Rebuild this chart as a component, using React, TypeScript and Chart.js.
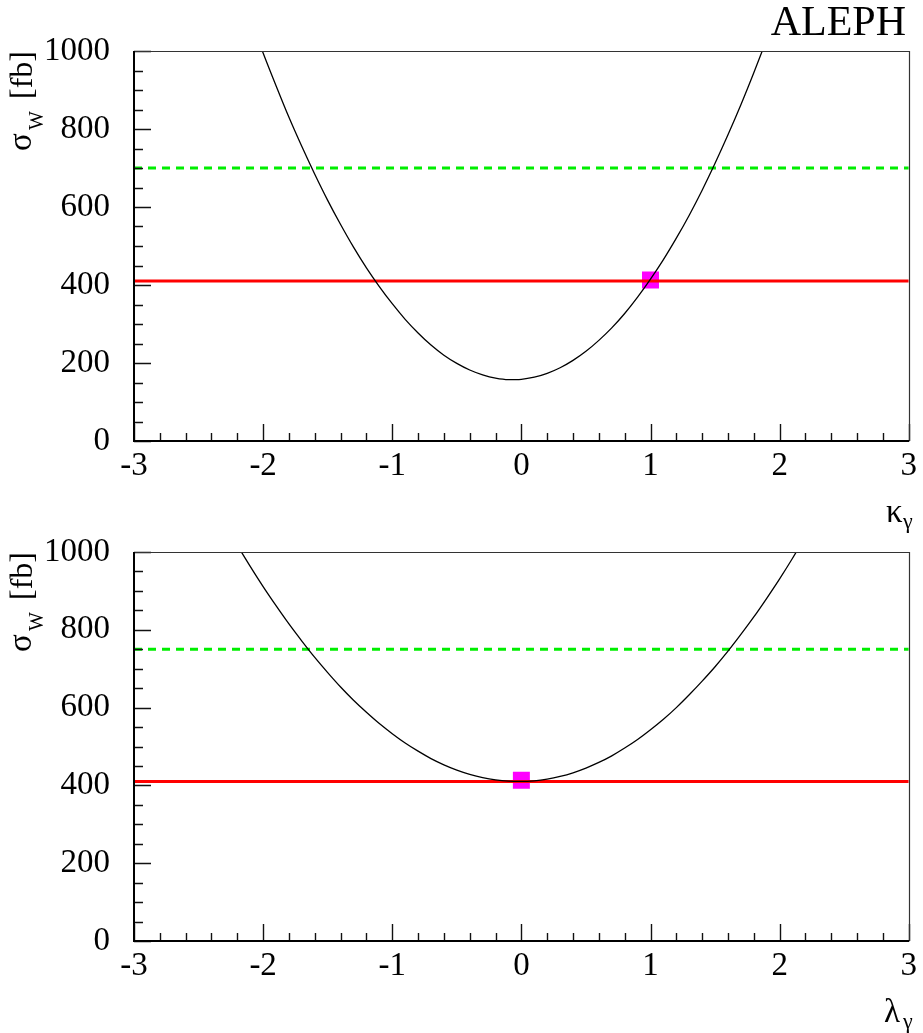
import React, { useEffect, useRef } from "react";
import { Chart, registerables } from "chart.js";

Chart.register(...registerables);

const FONT = "'Liberation Serif', 'DejaVu Serif', 'Times New Roman', serif";

// ---- Data ----
const kappaValues = [-2.1, -2.0, -1.9, -1.8, -1.7, -1.6, -1.5, -1.4, -1.3, -1.2, -1.1, -1.0, -0.9, -0.8, -0.7, -0.6, -0.5, -0.4, -0.3, -0.2, -0.1, 0, 0.1, 0.2, 0.3, 0.4, 0.5, 0.6, 0.7, 0.8, 0.9, 1.0, 1.1, 1.2, 1.3, 1.4, 1.5, 1.6, 1.7, 1.8, 1.9];
const kappaSigma = [1084, 995, 911, 830, 755, 684, 617, 555, 497, 444, 396, 352, 312, 277, 246, 220, 199, 182, 169.5, 161, 157.2, 158.1, 163.5, 173.4, 187.8, 206.7, 230, 258, 290, 327, 369, 415, 465, 520, 579, 643, 712, 785, 862, 944, 1030];

const lambdaValues = [-2.2, -2.1, -2.0, -1.9, -1.8, -1.7, -1.6, -1.5, -1.4, -1.3, -1.2, -1.1, -1.0, -0.9, -0.8, -0.7, -0.6, -0.5, -0.4, -0.3, -0.2, -0.1, 0, 0.1, 0.2, 0.3, 0.4, 0.5, 0.6, 0.7, 0.8, 0.9, 1.0, 1.1, 1.2, 1.3, 1.4, 1.5, 1.6, 1.7, 1.8, 1.9, 2.0, 2.1, 2.2];
const lambdaSigma = [1017, 963, 911, 862, 815, 771, 729, 690, 653, 619, 588, 559, 533, 509, 488, 469, 453, 439.4, 428.5, 420, 414.1, 410.8, 410.1, 411.8, 416.2, 423.1, 432.5, 444.6, 459, 476, 496, 518, 543, 570, 600, 633, 668, 705, 745, 788, 833, 881, 931, 984, 1040];

const measuredLevel = [410, 410]; // red line (kappa, lambda panels)
const limitLevel = [700, 750]; // green dashed line (kappa, lambda panels)
const smPointX = [1, 0];
const smPointY = [413, 413];
const lineSpan = [-3, 3];

const xTickLabels = [-3, -2, -1, 0, 1, 2, 3];
const xMinorTicks = [-2.8, -2.6, -2.4, -2.2, -1.8, -1.6, -1.4, -1.2, -0.8, -0.6, -0.4, -0.2, 0.2, 0.4, 0.6, 0.8, 1.2, 1.4, 1.6, 1.8, 2.2, 2.4, 2.6, 2.8];
const yTickLabels = [0, 200, 400, 600, 800, 1000];
const yMinorTicks = [50, 100, 150, 250, 300, 350, 450, 500, 550, 650, 700, 750, 850, 900, 950];

const frameTicks = {
  id: "frameTicks",
  afterDraw(chart: any) {
    const { ctx, chartArea: a, scales } = chart;
    const xs = scales.x;
    const ys = scales.y;
    ctx.save();
    ctx.strokeStyle = "#111";
    ctx.lineWidth = 1.4;
    ctx.beginPath();
    for (const v of xMinorTicks) {
      const px = Math.round(xs.getPixelForValue(v)) + 0.5;
      ctx.moveTo(px, a.bottom);
      ctx.lineTo(px, a.bottom - 8);
    }
    for (const v of xTickLabels) {
      const px = Math.round(xs.getPixelForValue(v)) + 0.5;
      ctx.moveTo(px, a.bottom);
      ctx.lineTo(px, a.bottom - 17);
    }
    for (const v of yMinorTicks) {
      const py = Math.round(ys.getPixelForValue(v)) + 0.5;
      ctx.moveTo(a.left, py);
      ctx.lineTo(a.left + 9, py);
    }
    for (const v of yTickLabels) {
      const py = Math.round(ys.getPixelForValue(v)) + 0.5;
      ctx.moveTo(a.left, py);
      ctx.lineTo(a.left + 17, py);
    }
    ctx.stroke();
    // thin top/right frame
    ctx.strokeStyle = "#333";
    ctx.lineWidth = 1.2;
    ctx.beginPath();
    ctx.moveTo(a.left, Math.round(a.top) + 0.5);
    ctx.lineTo(Math.round(a.right) + 0.5, Math.round(a.top) + 0.5);
    ctx.lineTo(Math.round(a.right) + 0.5, a.bottom);
    ctx.stroke();
    // axes
    ctx.strokeStyle = "#000";
    ctx.lineWidth = 2;
    ctx.beginPath();
    ctx.moveTo(Math.round(a.left), a.top);
    ctx.lineTo(Math.round(a.left), Math.round(a.bottom));
    ctx.lineTo(a.right + 0.5, Math.round(a.bottom));
    ctx.stroke();
    ctx.restore();
  },
};

type PanelProps = {
  top: number;
  height: number;
  padTop: number;
  xAxisHeight: number;
  xs: number[];
  ys: number[];
  idx: number;
};

function Panel({ top, height, padTop, xAxisHeight, xs, ys, idx }: PanelProps) {
  const ref = useRef<HTMLCanvasElement | null>(null);
  useEffect(() => {
    if (!ref.current) return;
    const curve = xs.map((x, i) => ({ x, y: ys[i] }));
    const chart = new Chart(ref.current, {
      type: "line",
      data: {
        datasets: [
          {
            data: curve,
            borderColor: "#000",
            borderWidth: 1.3,
            pointRadius: 0,
            cubicInterpolationMode: "monotone",
            fill: false,
          },
          {
            data: lineSpan.map((x) => ({ x, y: measuredLevel[idx] })),
            borderColor: "#ff0000",
            borderWidth: 3,
            pointRadius: 0,
            fill: false,
          },
          {
            data: [{ x: smPointX[idx], y: smPointY[idx] }],
            showLine: false,
            pointStyle: "rect",
            pointRadius: 12,
            pointBackgroundColor: "#ff00ff",
            pointBorderWidth: 0,
            borderWidth: 0,
          },
          {
            data: lineSpan.map((x) => ({ x, y: limitLevel[idx] })),
            borderColor: "#00ee00",
            borderWidth: 3,
            borderDash: [8, 6],
            pointRadius: 0,
            fill: false,
          },
        ],
      } as any,
      options: {
        animation: false,
        responsive: false,
        events: [],
        layout: { padding: { top: padTop, right: 9, left: 0, bottom: 0 } },
        plugins: { legend: { display: false }, tooltip: { enabled: false } },
        scales: {
          x: {
            type: "linear",
            min: -3,
            max: 3,
            afterFit: (s: any) => {
              s.height = xAxisHeight;
            },
            grid: { display: false, drawTicks: false },
            border: { display: false },
            ticks: {
              stepSize: 1,
              padding: 6,
              color: "#000",
              font: { family: FONT, size: 33 },
              callback: (v: any) => String(v),
            },
          },
          y: {
            type: "linear",
            min: 0,
            max: 1000,
            afterFit: (s: any) => {
              s.width = 134;
            },
            grid: { display: false, drawTicks: false },
            border: { display: false },
            ticks: {
              stepSize: 200,
              padding: 24,
              color: "#000",
              font: { family: FONT, size: 33 },
              callback: (v: any) => String(v),
            },
          },
        },
      } as any,
      plugins: [frameTicks],
    });
    return () => chart.destroy();
  }, []);
  return (
    <canvas
      ref={ref}
      width={923}
      height={height}
      style={{ position: "absolute", left: 0, top, width: 923, height }}
    />
  );
}

function T({ x, base, size, children }: { x: number; base: number; size: number; children: any }) {
  return (
    <div
      style={{
        position: "absolute",
        left: x,
        top: base - 0.8375 * size,
        fontSize: size,
        lineHeight: 1,
        fontFamily: FONT,
        whiteSpace: "nowrap",
        color: "#000",
      }}
    >
      {children}
    </div>
  );
}

function R({ baseX, startY, size, children }: { baseX: number; startY: number; size: number; children: any }) {
  return (
    <div
      style={{
        position: "absolute",
        left: baseX - 0.8375 * size,
        top: startY,
        fontSize: size,
        lineHeight: 1,
        fontFamily: FONT,
        whiteSpace: "nowrap",
        color: "#000",
        transform: "rotate(-90deg)",
        transformOrigin: "0 0",
      }}
    >
      {children}
    </div>
  );
}

function YTitle({ dy }: { dy: number }) {
  return (
    <>
      <R baseX={32} startY={151 + dy} size={33}>σ</R>
      <R baseX={43} startY={130 + dy} size={20}>W</R>
      <R baseX={32} startY={99 + dy} size={32}>[fb]</R>
    </>
  );
}

export default function App() {
  return (
    <div style={{ position: "absolute", left: 0, top: 0, width: 923, height: 1033, overflow: "hidden", background: "#fff" }}>
      <Panel top={0} height={502} padTop={51} xAxisHeight={61} xs={kappaValues} ys={kappaSigma} idx={0} />
      <Panel top={502} height={531} padTop={50} xAxisHeight={92} xs={lambdaValues} ys={lambdaSigma} idx={1} />
      <div
        style={{
          position: "absolute",
          right: 17,
          top: 0,
          fontSize: 42,
          lineHeight: 1,
          fontFamily: FONT,
          whiteSpace: "nowrap",
          color: "#000",
        }}
      >
        ALEPH
      </div>
      <YTitle dy={0} />
      <YTitle dy={501} />
      <T x={886} base={523} size={33}>κ</T>
      <T x={903} base={528} size={22}>γ</T>
      <T x={884} base={1023} size={33}>λ</T>
      <T x={903} base={1028} size={22}>γ</T>
    </div>
  );
}
